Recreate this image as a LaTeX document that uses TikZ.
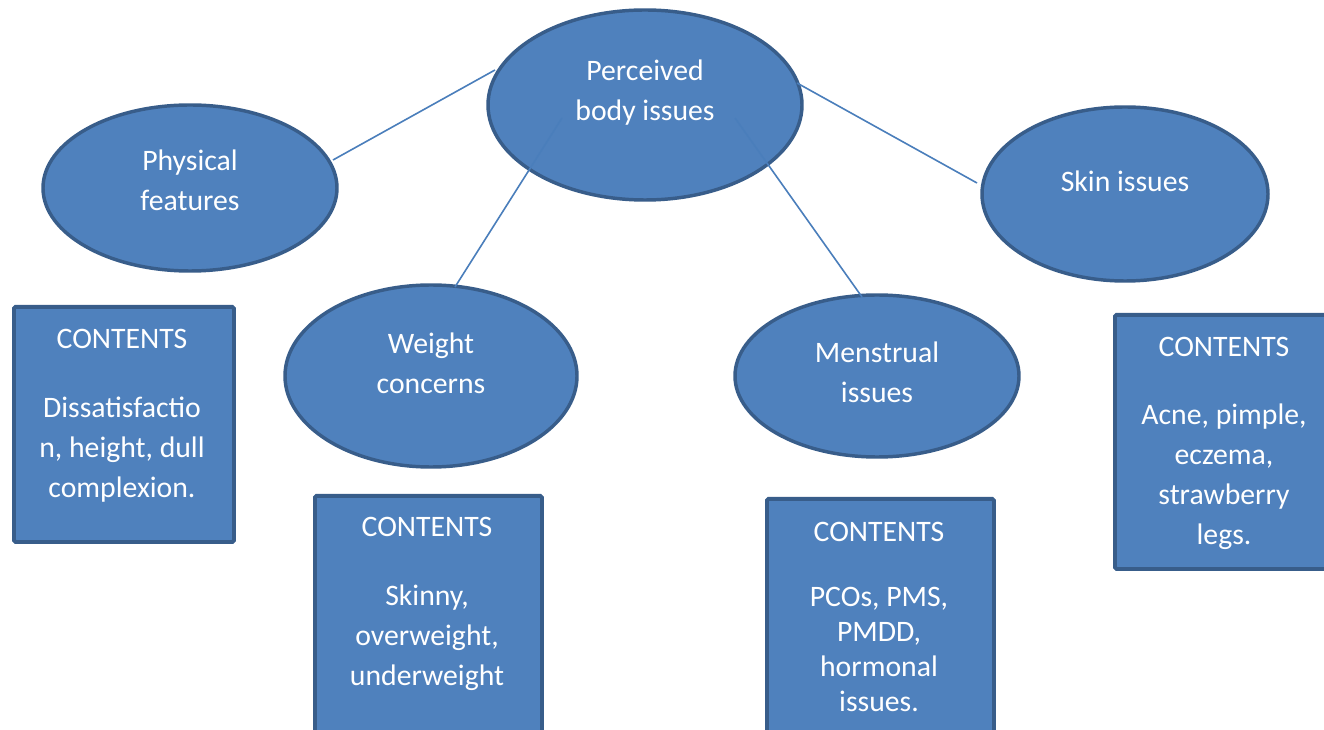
\documentclass[tikz,border=0pt]{standalone}
\usepackage{fontspec}
\setmainfont{Carlito}
\usetikzlibrary{shapes.geometric}
\definecolor{fillblue}{HTML}{4F81BD}
\definecolor{edgeblue}{HTML}{385D8A}
\definecolor{lineblue}{HTML}{4A7EBB}
\tikzset{
  oval/.style={ellipse, draw=edgeblue, fill=fillblue, line width=2.6pt, inner sep=0pt},
  cbox/.style={rectangle, draw=edgeblue, fill=fillblue, line width=2.9pt, inner sep=0pt, rounded corners=1.2pt, anchor=north west},
  txt/.style={text=white, align=center, inner sep=0pt, font=\fontsize{22.3}{30}\selectfont},
  link/.style={draw=lineblue, line width=1.2pt}
}
\begin{document}
\begin{tikzpicture}[x=0.75pt, y=-0.75pt]
\clip (0,0) rectangle (1324,730);
\fill[white] (0,0) rectangle (1324,730);
% ellipses
\node[oval, minimum width={314*0.75pt}, minimum height={190*0.75pt}] (perc) at (645,105) {};
\node[oval, minimum width={294*0.75pt}, minimum height={166*0.75pt}] (phys) at (190,188) {};
\node[oval, minimum width={292*0.75pt}, minimum height={182*0.75pt}] (weight) at (431,376) {};
\node[oval, minimum width={284*0.75pt}, minimum height={162*0.75pt}] (mens) at (877,376) {};
\node[oval, minimum width={286*0.75pt}, minimum height={174*0.75pt}] (skin) at (1125,194) {};
% ellipse texts
\node[txt] (percT) at (645,93) {Perceived\\body issues};
\node[txt] (physT) at (190,180) {Physical\\features};
\node[txt] (weightT) at (431,363.5) {Weight\\concerns};
\node[txt] (mensT) at (877,372) {Menstrual\\issues};
\node[txt] (skinT) at (1125,181.5) {Skin issues};
% boxes
\node[cbox, minimum width={220*0.75pt}, minimum height={235*0.75pt}] (b1) at (12,305) {};
\node[cbox, minimum width={227*0.75pt}, minimum height={260*0.75pt}] (b2) at (313,494) {};
\node[cbox, minimum width={227*0.75pt}, minimum height={260*0.75pt}] (b3) at (765,497) {};
\node[cbox, minimum width={230*0.75pt}, minimum height={254*0.75pt}] (b4) at (1113,313) {};
% box texts
\node[txt] (b1T) at (122,415.5) {CONTENTS\\[21.5pt]Dissatisfactio\\n, height, dull\\complexion.};
\node[txt] (b2T) at (427,604) {CONTENTS\\[22pt]Skinny,\\overweight,\\underweight};
\node[txt, font=\fontsize{22.3}{26.3}\selectfont] (b3T) at (879,617) {CONTENTS\\[22pt]PCOs, PMS,\\PMDD,\\hormonal\\issues.};
\node[txt] (b4T) at (1224,443.5) {CONTENTS\\[21pt]Acne, pimple,\\eczema,\\strawberry\\legs.};
% connectors
\coordinate (p1) at (495,70);
\coordinate (q1) at (333,160);
\coordinate (p2) at (562,118);
\coordinate (q2) at (455,287);
\coordinate (p3) at (735,118);
\coordinate (q3) at (862,297);
\coordinate (p4) at (797,83);
\coordinate (q4) at (977,183);
\draw[link] (p1) -- (q1);
\draw[link] (p2) -- (q2);
\draw[link] (p3) -- (q3);
\draw[link] (p4) -- (q4);
\end{tikzpicture}
\end{document}
